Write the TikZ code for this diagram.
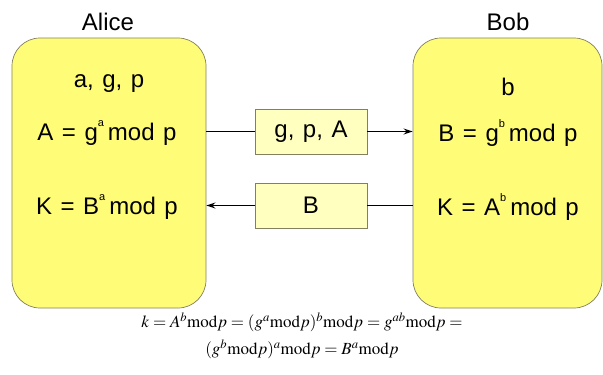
\documentclass[tikz,border=0pt]{standalone}
\usepackage{mathptmx}
\usepackage{fontspec}
\setmainfont{Liberation Sans}
\usetikzlibrary{arrows.meta,positioning}
\definecolor{partyfill}{RGB}{255,252,120}
\definecolor{msgfill}{RGB}{255,255,192}
\definecolor{boxline}{RGB}{130,128,95}
\newcommand{\up}[1]{\raisebox{0.55em}{\fontsize{11}{11}\selectfont #1}}
\newcommand{\bigtxt}{\fontsize{24}{26}\selectfont\spaceskip=8.5pt\relax}

\begin{document}
\begin{tikzpicture}[x=1pt,y=-1pt,
  party/.style={draw=boxline,fill=partyfill,rounded corners=28pt,line width=0.7pt},
  msgbox/.style={draw=boxline,fill=msgfill,line width=0.7pt,minimum width=112pt,
    minimum height=45pt,font=\bigtxt},
  txt/.style={font=\bigtxt,inner sep=0pt},
  line width=1.7pt,
]
\useasboundingbox (0,0) rectangle (603,375);

% the two parties
\node[party,minimum width=194pt,minimum height=270pt] (alice) at (109,173) {};
\node[party,minimum width=189pt,minimum height=270pt] (bob) at (507.5,173) {};
\node[txt] (alicename) at (108,22) {Alice};
\node[txt] (bobname) at (508,22) {Bob};

% what Alice knows
\node[txt] (a1) at (109,84) {a, g, p};
\node[txt] (a2) at (107,133) {A = g\up{a}\,mod p};
\node[txt] (a3) at (107,207) {K = B\up{a}\,mod p};

% what Bob knows
\node[txt] (b1) at (508,87) {b};
\node[txt] (b2) at (508,133) {B = g\up{b}\,mod p};
\node[txt] (b3) at (508,207) {K = A\up{b}\,mod p};

% the messages
\node[msgbox] (m1) at (311,131.5) {g, p, A};
\node[msgbox] (m2) at (311,205.5) {B};

\draw (alice.east |- m1) -- (m1.west);
\draw[-{Stealth[length=9pt,width=6pt]}] (m1.east) -- (bob.west |- m1);
\draw (bob.west |- m2) -- (m2.east);
\draw[-{Stealth[length=9pt,width=6pt]}] (m2.west) -- (alice.east |- m2);

% the shared key
\node[inner sep=0pt,align=center,font=\fontsize{17}{27}\selectfont] (key) at (302,336)
  {$k = A^b\mathrm{mod}p = (g^a\mathrm{mod}p)^b\mathrm{mod}p = g^{ab}\mathrm{mod}p =$\\
   $(g^b\mathrm{mod}p)^a\mathrm{mod}p = B^a\mathrm{mod}p$};
\end{tikzpicture}
\end{document}
